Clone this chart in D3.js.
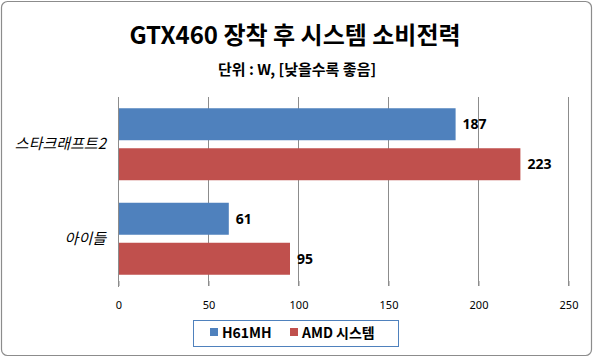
<!DOCTYPE html>
<html><head><meta charset="utf-8">
<script src="https://cdn.jsdelivr.net/npm/d3@7"></script>
<style>body{margin:0;background:#fff}svg{display:block}text{font-family:"Noto Sans CJK KR","Noto Sans",sans-serif}</style>
</head><body><svg id="c" width="593" height="357"></svg>
<script>
const categories = ["스타크래프트2", "아이들"];
const seriesNames = ["H61MH", "AMD 시스템"];
const h61mh = [187, 61];
const amd = [223, 95];
const ticks = [0, 50, 100, 150, 200, 250];
const colors = ["#4F81BD", "#C0504D"];
const title = "GTX460 장착 후 시스템 소비전력";
const subtitle = "단위 : W, [낮을수록 좋음]";

const svg = d3.select("#c");
svg.append("rect").attr("x",1.5).attr("y",1.5).attr("width",590).attr("height",354).attr("rx",6)
  .attr("fill","#fff").attr("stroke","#8c8c8c").attr("stroke-width",1.2);

svg.append("text").attr("x",295).attr("y",44).attr("text-anchor","middle")
  .attr("font-size",24).attr("font-weight","bold").text(title);
svg.append("text").attr("x",297).attr("y",75).attr("text-anchor","middle")
  .attr("font-size",15).attr("font-weight","bold").text(subtitle);

const x = d3.scaleLinear().domain([0,250]).range([118,568]);
const y0 = d3.scaleBand().domain(categories).range([97,286]).paddingInner(0).paddingOuter(0);
const y1 = d3.scaleBand().domain(seriesNames).range([11.25, 83.25]).paddingInner(0.2).paddingOuter(0);

// gridlines
svg.append("g").selectAll("line").data(ticks.filter(t=>t>0)).join("line")
  .attr("x1",d=>x(d)+0.5).attr("x2",d=>x(d)+0.5).attr("y1",97).attr("y2",286)
  .attr("stroke","#8c8c8c").attr("stroke-width",1);

// x axis
const xAxis = d3.axisBottom(x).tickValues(ticks).tickSize(5).tickPadding(15);
const gx = svg.append("g").attr("transform","translate(0.5,281)").call(xAxis);
gx.select(".domain").remove();
gx.selectAll("line").attr("stroke","#8c8c8c");
gx.selectAll("text").attr("font-size",11).attr("fill","#000").style("font-family","'Noto Sans',sans-serif");

// y axis line
svg.append("line").attr("x1",118.5).attr("x2",118.5).attr("y1",97).attr("y2",287).attr("stroke","#8c8c8c");

const data = categories.map((c,i)=>({cat:c, vals:[h61mh[i], amd[i]]}));
const g = svg.append("g");
data.forEach(d=>{
  d.vals.forEach((v,j)=>{
    const yy = y0(d.cat)+y1(seriesNames[j]);
    g.append("rect").attr("x",x(0)+1).attr("y",yy).attr("width",x(v)-x(0)).attr("height",y1.bandwidth())
      .attr("fill",colors[j]);
    g.append("text").attr("x",x(v)+8).attr("y",yy+y1.bandwidth()/2+5)
      .attr("font-size",14).attr("font-weight","bold").style("font-family","'Noto Sans',sans-serif").text(v);
  });
  svg.append("text").attr("x",106).attr("y",y0(d.cat)+y0.bandwidth()/2+5).attr("text-anchor","end")
    .attr("font-size",15).attr("font-style","italic").text(d.cat);
});

// legend
const lg = svg.append("g");
lg.append("rect").attr("x",193.5).attr("y",320.5).attr("width",205).attr("height",26)
  .attr("fill","#fff").attr("stroke","#4F81BD").attr("stroke-width",1);
const lx = [210, 290];
seriesNames.forEach((n,i)=>{
  lg.append("rect").attr("x",lx[i]).attr("y",328).attr("width",8).attr("height",8).attr("fill",colors[i]);
  lg.append("text").attr("x",lx[i]+12).attr("y",338).attr("font-size",14).attr("font-weight","bold").text(n);
});
</script></body></html>
